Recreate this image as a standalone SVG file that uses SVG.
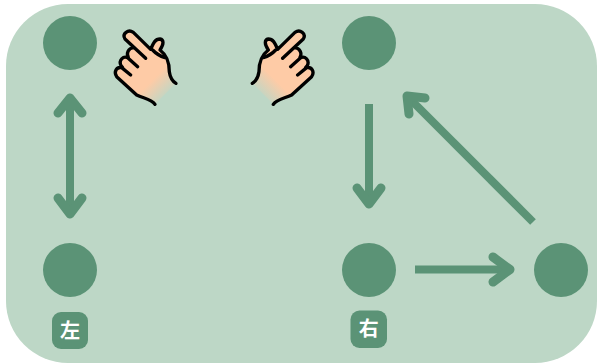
<svg xmlns="http://www.w3.org/2000/svg" width="597" height="363" viewBox="0 0 597 363">
<style>
.n{fill:#5b9376}
.c{fill:none;stroke:#5b9376;stroke-width:8;stroke-linejoin:round}
.h{stroke-width:9;stroke-linecap:round}
.t{fill:#fff;font:700 20px "Noto Sans CJK SC",sans-serif;text-anchor:middle}
.o{fill:none;stroke:#000;stroke-width:10;stroke-linecap:round;stroke-linejoin:round}
</style>
<defs>
<linearGradient id="g" gradientUnits="userSpaceOnUse" x1="130" y1="170" x2="205" y2="245"><stop offset="0.35" stop-color="#fecba6"/><stop offset="1" stop-color="#bdd7c6"/></linearGradient>
<g id="hand">
<path fill="url(#g)" d="M165 268C155 252 130 250 110 240L50 185C40 170 50 155 65 158C55 140 70 122 83 128C78 115 85 100 100 98L75 72C65 55 85 42 100 52L152 103C160 85 165 72 180 72C192 74 192 88 180 105C200 120 208 140 208 170C210 185 215 197 228 205Z"/>
<path class="o" d="M165 268C155 252 130 250 110 240L50 185C40 170 50 155 65 158L92 180M113 155L83 128C70 122 55 135 63 152L68 158M100 98C85 100 78 115 85 127M137 130L75 72C65 55 85 42 100 52L152 103C160 85 165 72 180 72C192 74 192 88 180 105C200 120 208 140 208 170C210 185 215 197 228 205M158 105C170 118 182 124 195 128"/>
</g>
</defs>
<path id="background" fill="#bdd7c6" d="M68 4H535A62 62 0 0 1 597 66V301A62 62 0 0 1 535 363H68A62 62 0 0 1 6 301V66A62 62 0 0 1 68 4Z"/>
<g id="connectors">
<path class="c" d="M70 100V214"/><path class="c h" d="M58 113L70 98L82 113M58 198L70 214L82 198"/>
<path class="c" d="M369 104V204"/><path class="c h" d="M357 188L369 204L381 188"/>
<path class="c" d="M415 269.500H508"/><path class="c h" d="M493 257L510 269.500L493 282"/>
<path class="c" d="M533 222L408 97"/><path class="c h" d="M409 114L407 96L425 98"/>
</g>
<g id="node-left-top"><circle class="n" cx="70" cy="43" r="27"/></g>
<g id="node-left-bottom"><circle class="n" cx="70" cy="270" r="27"/></g>
<g id="node-right-top"><circle class="n" cx="369" cy="43" r="27"/></g>
<g id="node-right-bottom"><circle class="n" cx="369" cy="270" r="27"/></g>
<g id="node-right-far"><circle class="n" cx="561" cy="270" r="27"/></g>
<g id="hand-left" transform="translate(100 15) scale(.3333)"><use href="#hand"/></g>
<g id="hand-right" transform="translate(328.300 15) scale(-.3333 .3333)"><use href="#hand"/></g>
<g id="label-left"><rect class="n" x="52" y="312" width="36" height="37" rx="9"/><text class="t" x="70" y="337.500">左</text></g>
<g id="label-right"><rect class="n" x="350.500" y="310.500" width="36.500" height="37.500" rx="9"/><text class="t" x="368.700" y="336">右</text></g>
</svg>
